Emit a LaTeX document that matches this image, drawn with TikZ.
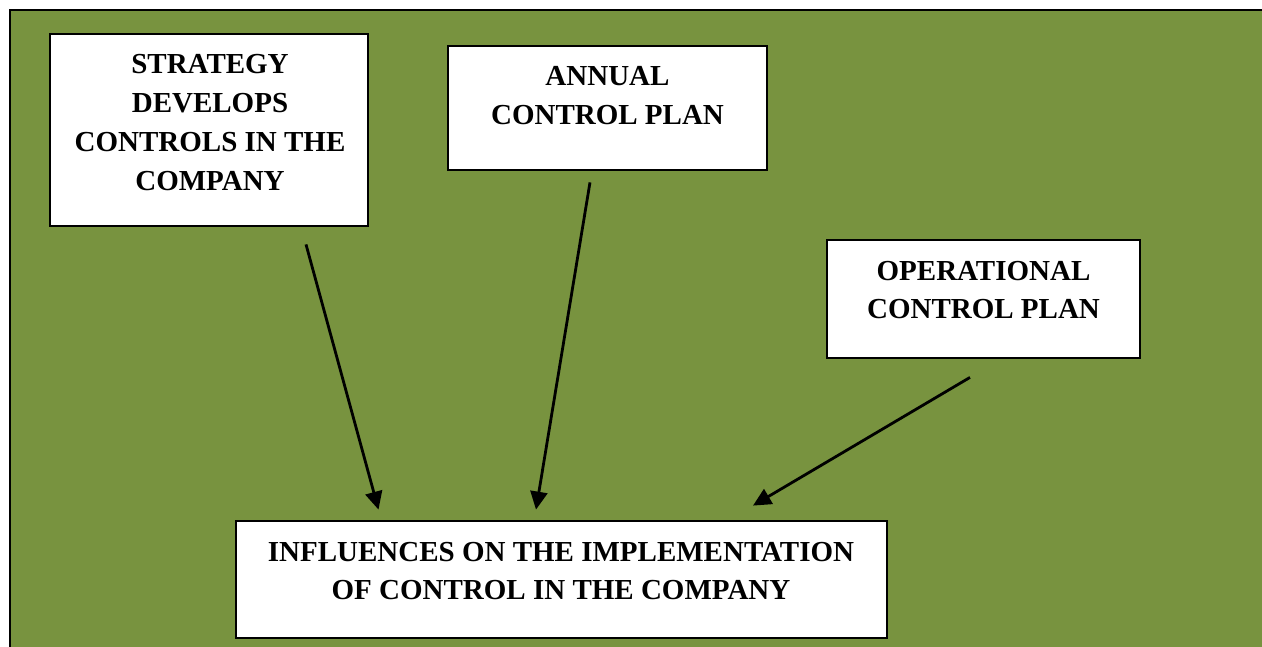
\documentclass[tikz,border=0pt]{standalone}
\usepackage{fontspec}
\setmainfont{Liberation Serif}
\usetikzlibrary{arrows.meta,calc}
\definecolor{bg}{RGB}{120,147,63}
\begin{document}
\begin{tikzpicture}[x=1pt,y=-1pt,
  box/.style={draw=black, line width=2.8pt, fill=white, inner sep=0pt},
  lbl/.style={align=center, inner sep=0pt, font=\fontsize{29}{38.8}\selectfont\bfseries},
  conn/.style={line width=2.8pt, -{Triangle[length=18pt,width=17pt]}}]
\useasboundingbox (0,0) rectangle (1262,647);
\fill[bg] (10,10) rectangle (1262,647);
\draw[line width=2.8pt] (10,647) -- (10,10) -- (1262,10);
% boxes
\node[box, minimum width=318pt, minimum height=192pt] (b1) at (209,130) {};
\node[box, minimum width=319pt, minimum height=124pt] (b2) at (607.5,108) {};
\node[box, minimum width=313pt, minimum height=118pt] (b3) at (983.5,299) {};
\node[box, minimum width=651pt, minimum height=117pt] (b4) at (561.5,579.5) {};
% texts
\node[lbl] (t1) at (210,122.5) {STRATEGY\\DEVELOPS\\CONTROLS IN THE\\COMPANY};
\node[lbl] (t2) at (607.5,95.5) {ANNUAL\\CONTROL PLAN};
\node[lbl] (t3) at (983.5,290) {OPERATIONAL\\CONTROL PLAN};
\node[lbl] (t4) at (561,571) {INFLUENCES ON THE IMPLEMENTATION\\OF CONTROL IN THE COMPANY};
% connector end points
\coordinate (a1s) at ($(b1.south)+(97,17)$);
\coordinate (a1e) at ($(b4.north)+(-183,-10)$);
\coordinate (a2s) at ($(b2.south)+(-17.5,11)$);
\coordinate (a2e) at ($(b4.north)+(-25.5,-10)$);
\coordinate (a3s) at ($(b3.south)+(-13.5,18)$);
\coordinate (a3e) at ($(b4.north)+(191.5,-14)$);
\draw[conn] (a1s) -- (a1e);
\draw[conn] (a2s) -- (a2e);
\draw[conn] (a3s) -- (a3e);
\end{tikzpicture}
\end{document}
